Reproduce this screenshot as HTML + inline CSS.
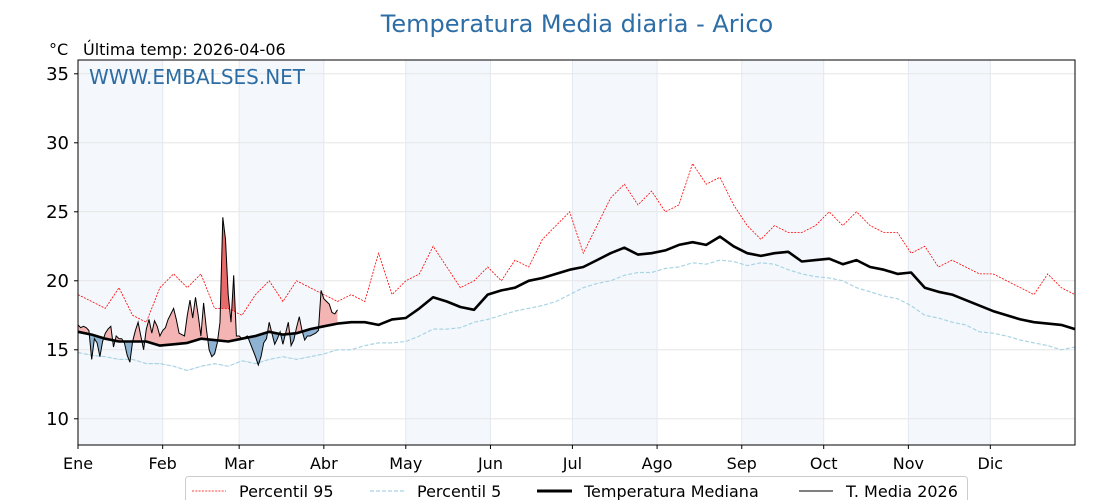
<!DOCTYPE html>
<html><head><meta charset="utf-8"><style>
html,body{margin:0;padding:0;background:#fff;}
svg{display:block;font-family:"DejaVu Sans","Liberation Sans",sans-serif;}
</style></head><body>
<svg id="chart" width="1120" height="500" viewBox="0 0 1120 500">
<text x="577" y="32" text-anchor="middle" font-size="24" fill="#2e6ea6">Temperatura Media diaria - Arico</text>
<text x="49" y="55" font-size="16" fill="#000">°C</text>
<text x="83" y="55" font-size="16" fill="#000">Última temp: 2026-04-06</text>
<g id="bands"></g>
<g id="grid"></g>
<g id="fills"></g>
<g id="lines"></g>
<text x="89" y="84" font-size="20" fill="#2e6da4">WWW.EMBALSES.NET</text>
<rect x="78" y="60" width="997" height="385" fill="none" stroke="#000" stroke-width="1"/>
<g id="axes"></g>
<g>
<rect x="185.5" y="476.5" width="782" height="30" rx="3" fill="#fff" stroke="#ccc"/>
<line x1="192" y1="491" x2="226" y2="491" stroke="red" stroke-width="0.8" stroke-dasharray="2,1.3"/>
<text x="239" y="497" font-size="16">Percentil 95</text>
<line x1="370" y1="491" x2="404" y2="491" stroke="#a8d4e4" stroke-width="1.2" stroke-dasharray="4,2"/>
<text x="417" y="497" font-size="16">Percentil 5</text>
<line x1="537" y1="491" x2="572" y2="491" stroke="#000" stroke-width="3"/>
<text x="584" y="497" font-size="16">Temperatura Mediana</text>
<line x1="799" y1="491" x2="833" y2="491" stroke="#000" stroke-width="1"/>
<text x="846" y="497" font-size="16">T. Media 2026</text>
</g>
</svg>
<script>
const climDays=[0,5,10,15,20,25,30,35,40,45,50,55,60,65,70,75,80,85,90,95,100,105,110,115,120,125,130,135,140,145,150,155,160,165,170,175,180,185,190,195,200,205,210,215,220,225,230,235,240,245,250,255,260,265,270,275,280,285,290,295,300,305,310,315,320,325,330,335,340,345,350,355,360,365];
const medianVals=[16.3,16.1,15.8,15.6,15.6,15.6,15.3,15.4,15.5,15.8,15.7,15.6,15.8,16.0,16.3,16.1,16.2,16.5,16.7,16.9,17.0,17.0,16.8,17.2,17.3,18.0,18.8,18.5,18.1,17.9,19.0,19.3,19.5,20.0,20.2,20.5,20.8,21.0,21.5,22.0,22.4,21.9,22.0,22.2,22.6,22.8,22.6,23.2,22.5,22.0,21.8,22.0,22.1,21.4,21.5,21.6,21.2,21.5,21.0,20.8,20.5,20.6,19.5,19.2,19.0,18.6,18.2,17.8,17.5,17.2,17.0,16.9,16.8,16.5];
const p95Vals=[19.0,18.5,18.0,19.5,17.5,17.0,19.5,20.5,19.5,20.5,18.0,18.0,17.5,19.0,20.0,18.5,20.0,19.5,19.0,18.5,19.0,18.5,22.0,19.0,20.0,20.5,22.5,21.0,19.5,20.0,21.0,20.0,21.5,21.0,23.0,24.0,25.0,22.0,24.0,26.0,27.0,25.5,26.5,25.0,25.5,28.5,27.0,27.5,25.5,24.0,23.0,24.0,23.5,23.5,24.0,25.0,24.0,25.0,24.0,23.5,23.5,22.0,22.5,21.0,21.5,21.0,20.5,20.5,20.0,19.5,19.0,20.5,19.5,19.0];
const p5Vals=[14.8,14.6,14.5,14.3,14.3,14.0,14.0,13.8,13.5,13.8,14.0,13.8,14.2,14.0,14.3,14.5,14.3,14.5,14.7,15.0,15.0,15.3,15.5,15.5,15.6,16.0,16.5,16.5,16.6,17.0,17.2,17.5,17.8,18.0,18.2,18.5,19.0,19.5,19.8,20.0,20.4,20.6,20.6,20.9,21.0,21.3,21.2,21.5,21.4,21.1,21.3,21.2,20.8,20.5,20.3,20.2,20.0,19.5,19.2,18.9,18.7,18.2,17.5,17.3,17.0,16.8,16.3,16.2,16.0,15.7,15.5,15.3,15.0,15.2];
const t2026Vals=[16.8,16.6,16.7,16.6,16.4,14.3,15.8,15.5,14.5,15.6,16.2,16.5,16.7,15.2,16.0,15.8,15.8,15.5,14.6,14.1,15.6,16.4,17.0,16.0,15.0,16.5,17.2,16.2,17.1,16.7,16.0,16.4,16.6,17.2,17.6,18.0,17.2,16.2,16.1,16.0,17.5,18.6,17.3,18.8,17.5,16.0,18.4,16.5,15.0,14.5,14.7,15.5,17.0,24.6,23.0,19.0,17.0,20.4,16.0,16.0,15.8,15.9,16.0,15.5,15.0,14.5,13.9,14.5,15.5,15.8,17.0,16.2,15.4,15.8,16.3,15.4,16.2,17.0,15.3,15.7,16.6,17.4,16.4,15.7,16.0,16.0,16.1,16.2,16.4,19.3,18.7,18.5,18.3,17.7,17.6,17.9];
const monthLabels=["Ene","Feb","Mar","Abr","May","Jun","Jul","Ago","Sep","Oct","Nov","Dic"];
const monthStarts=[0,31,59,90,120,151,181,212,243,273,304,334];
const yTicks=[10,15,20,25,30,35];

const X0=78,X1=1075,Y0=60,Y1=445,YMIN=8.1,YMAX=36.0;
const xs=d=>X0+d*(X1-X0)/365;
const ys=v=>Y1-(v-YMIN)*(Y1-Y0)/(YMAX-YMIN);
const NS="http://www.w3.org/2000/svg";
function mk(tag,attrs,parent){const e=document.createElementNS(NS,tag);for(const k in attrs)e.setAttribute(k,attrs[k]);parent.appendChild(e);return e;}
function interp(days,vals,d){for(let i=0;i<days.length-1;i++){if(d>=days[i]&&d<=days[i+1]){const t=(d-days[i])/(days[i+1]-days[i]);return vals[i]+t*(vals[i+1]-vals[i]);}}return vals[vals.length-1];}
function pathOf(days,vals){return days.map((d,i)=>(i?'L':'M')+xs(d).toFixed(1)+','+ys(vals[i]).toFixed(1)).join('');}

const bands=document.getElementById('bands');
for(let m=0;m<12;m+=2){const end=m+1<12?monthStarts[m+1]:365;
 const r=mk('rect',{x:xs(monthStarts[m]),y:Y0,width:xs(end)-xs(monthStarts[m]),height:Y1-Y0,fill:'#f4f8fc'},bands);
 
 }
const grid=document.getElementById('grid');
yTicks.forEach(v=>{const l=mk('line',{x1:X0,x2:X1,y1:ys(v),y2:ys(v),stroke:'#e6e6e6','stroke-width':1},grid);
 
 });
monthStarts.forEach(d=>{const l=mk('line',{x1:xs(d),x2:xs(d),y1:Y0,y2:Y1,stroke:'#e3e8ee','stroke-width':1},grid);
 
 });

const fills=document.getElementById('fills');
const defs=mk('defs',{},fills);
const tDays=t2026Vals.map((_,i)=>i);
const medD=tDays.map(d=>interp(climDays,medianVals,d));
const p95D=tDays.map(d=>interp(climDays,p95Vals,d));
const p5D=tDays.map(d=>interp(climDays,p5Vals,d));
function band(a,b){let s='M'+tDays.map(d=>xs(d).toFixed(1)+','+ys(a[d]).toFixed(1)).join('L');for(let i=tDays.length-1;i>=0;i--)s+='L'+xs(i).toFixed(1)+','+ys(b[i]).toFixed(1);return s+'Z';}
function clip(id,ref,above){const c=mk('clipPath',{id:id},defs);let s='M'+tDays.map(d=>xs(d).toFixed(1)+','+ys(ref[d]).toFixed(1)).join('L');const yy=above?Y0:Y1;s+='L'+xs(tDays.length-1)+','+yy+'L'+xs(0)+','+yy+'Z';mk('path',{d:s},c);}
clip('cMedUp',medD,true);clip('cMedDn',medD,false);clip('cP95',p95D,true);clip('cP5',p5D,false);
const f1=mk('path',{d:band(t2026Vals,medD),fill:'#f4b4b4','clip-path':'url(#cMedUp)'},fills);


const f2=mk('path',{d:band(t2026Vals,medD),fill:'#8eb2d2','clip-path':'url(#cMedDn)'},fills);


const f3=mk('path',{d:band(t2026Vals,p95D),fill:'#e86a6a','clip-path':'url(#cP95)'},fills);


const f4=mk('path',{d:band(t2026Vals,p5D),fill:'#2a679e','clip-path':'url(#cP5)'},fills);



const lines=document.getElementById('lines');
const lp95=mk('path',{d:pathOf(climDays,p95Vals),fill:'none',stroke:'red','stroke-width':0.8,'stroke-dasharray':'2,1.3'},lines);


const lp5=mk('path',{d:pathOf(climDays,p5Vals),fill:'none',stroke:'#a8d4e4','stroke-width':1.2,'stroke-dasharray':'4,2'},lines);


const lmed=mk('path',{d:pathOf(climDays,medianVals),fill:'none',stroke:'#000','stroke-width':2.6,'stroke-linejoin':'round'},lines);


const l26=mk('path',{d:pathOf(tDays,t2026Vals),fill:'none',stroke:'#000','stroke-width':1},lines);



const axes=document.getElementById('axes');
yTicks.forEach(v=>{const t=mk('line',{x1:X0-4,x2:X0,y1:ys(v),y2:ys(v),stroke:'#000'},axes);
 
 
 const tx=mk('text',{x:X0-9,y:ys(v)+6,'text-anchor':'end','font-size':18},axes);tx.textContent=v;
 
 });
monthStarts.forEach((d,i)=>{const t=mk('line',{x1:xs(d),x2:xs(d),y1:Y1,y2:Y1+4,stroke:'#000'},axes);
 
 
 const tx=mk('text',{x:xs(d),y:469,'text-anchor':'middle','font-size':16},axes);tx.textContent=monthLabels[i];
 
 });
</script>
</body></html>
